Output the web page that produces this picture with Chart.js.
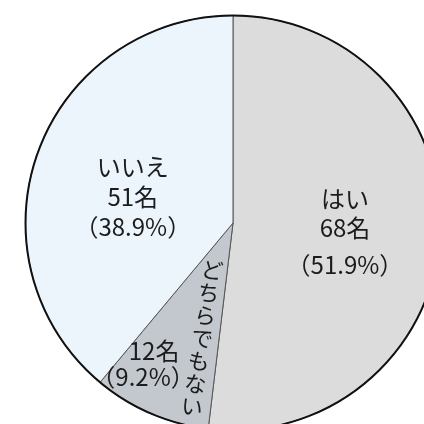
<!DOCTYPE html>
<html>
<head>
<meta charset="utf-8">
<script src="https://cdn.jsdelivr.net/npm/chart.js@4/dist/chart.umd.min.js"></script>
<style>
  html, body { margin: 0; padding: 0; background: #fff; overflow: hidden; }
  #wrap { width: 424px; height: 424px; overflow: hidden; position: relative; }
  canvas { position: absolute; left: 0; top: 0; }
</style>
</head>
<body>
<div id="wrap"><canvas id="pie" width="466" height="446"></canvas></div>
<script>
const answers = ["はい", "どちらでもない", "いいえ"];
const counts = [68, 12, 51];
const percents = [51.9, 9.2, 38.9];
const colors = ["#dcdcdc", "#c3c8ce", "#edf5fc"];

const FONT = '"Noto Sans CJK JP", "Noto Sans", sans-serif';

// where each label block sits: angle from top (deg, clockwise) and share of radius
const labelSpots = [
   { angle: 92, r: 0.54 },
   { angle: 210, r: 0.78 },
   { angle: 285, r: 0.5 },
];

const labelPlugin = {
   id: "sliceLabels",
   afterDatasetsDraw(chart) {
      const ctx = chart.ctx;
      const arcs = chart.getDatasetMeta(0).data;
      const cx = arcs[0].x;
      const cy = arcs[0].y;
      const R = arcs[0].outerRadius;

      // outer rim
      ctx.save();
      ctx.beginPath();
      ctx.arc(cx, cy, R, 0, Math.PI * 2);
      ctx.lineWidth = 2;
      ctx.strokeStyle = "#111";
      ctx.stroke();

      ctx.fillStyle = "#1c1c1c";
      ctx.textAlign = "center";
      ctx.textBaseline = "middle";
      ctx.font = "24px " + FONT;

      answers.forEach((name, i) => {
         const spot = labelSpots[i];
         const a = (spot.angle * Math.PI) / 180;
         const x = cx + Math.sin(a) * R * spot.r;
         const y = cy - Math.cos(a) * R * spot.r;
         const countText = counts[i] + "名";
         const pctText = "（" + percents[i] + "%）";
         if (i === 1) {
            // small slice: count + percent only, name written down the slice
            ctx.fillText(countText, x + 2, y - 12);
            ctx.fillText(pctText, x - 9, y + 14);
            ctx.save();
            ctx.translate(cx - 21, cy + 47);
            ctx.rotate((8.3 * Math.PI) / 180);
            ctx.font = "22px " + FONT;
            [...name].forEach((ch, k) => {
               ctx.fillText(ch, 0, k * 23);
            });
            ctx.restore();
         } else {
            const gap = i === 0 ? [-28, 1, 38] : [-29, 1, 31];
            ctx.fillText(name, x, y + gap[0]);
            ctx.fillText(countText, x, y + gap[1]);
            ctx.fillText(pctText, x, y + gap[2]);
         }
      });
      ctx.restore();
   },
};

new Chart(document.getElementById("pie"), {
   type: "pie",
   data: {
      labels: answers,
      datasets: [
         {
            data: counts,
            backgroundColor: colors,
            borderColor: "#555",
            borderWidth: 1,
         },
      ],
   },
   options: {
      responsive: false,
      animation: false,
      layout: { padding: 15 },
      plugins: {
         legend: { display: false },
         tooltip: { enabled: false },
      },
   },
   plugins: [labelPlugin],
});
</script>
</body>
</html>
